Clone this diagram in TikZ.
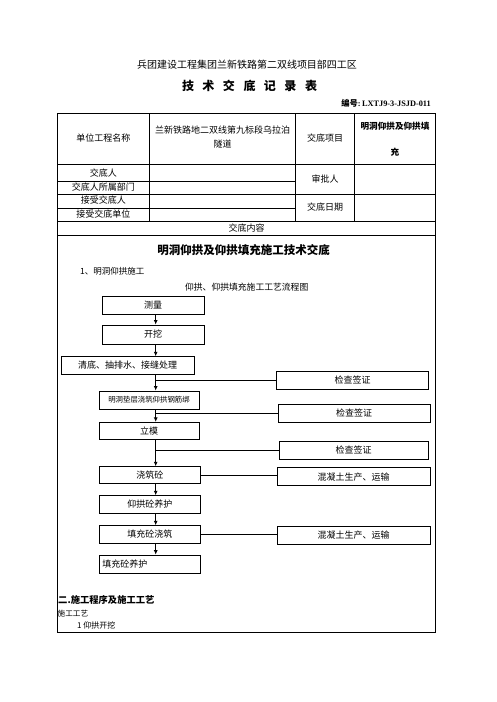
\documentclass[tikz,border=0pt]{standalone}
\usepackage{fontspec}
\setmainfont{Liberation Serif}
\newfontfamily\cjk{Noto Sans CJK SC}
\usetikzlibrary{arrows.meta}
\tikzset{
  tline/.style={line width=0.8pt},
  fbox/.style={draw, line width=0.8pt, inner sep=0pt, font=\cjk\fontsize{9}{10}\selectfont},
  txt/.style={inner sep=0pt, font=\cjk\fontsize{9}{10}\selectfont},
  arr/.style={line width=1pt, -{Latex[length=4.5pt,width=4pt]}},
  link/.style={line width=0.9pt}
}
\begin{document}
\begin{tikzpicture}[x=1pt,y=-1pt]
\fill[white] (0,0) rectangle (496,702);
\useasboundingbox (0,0) rectangle (496,702);
% headings
\node[txt, font=\cjk\fontsize{10}{11}\selectfont] (h1) at (247,65) {兵团建设工程集团兰新铁路第二双线项目部四工区};
\node[txt, font=\cjk\bfseries\fontsize{12}{13}\selectfont] (h2) at (249.5,86) {技\hspace{8.5pt}术\hspace{8.5pt}交\hspace{8.5pt}底\hspace{8.5pt}记\hspace{8.5pt}录\hspace{8.5pt}表};
\node[txt, anchor=east, font=\fontsize{8.3}{9}\selectfont\bfseries] (h3) at (431,103.5) {{\cjk 编号}:\,LXTJ9-3-JSJD-011};
% table
\draw[tline] (57.3,113.3) rectangle (435.7,632.7);
\draw[tline] (57.3,164.3) -- (435.7,164.3);
\draw[tline] (57.3,181.7) -- (295.7,181.7);
\draw[tline] (57.3,194) -- (435.7,194);
\draw[tline] (57.3,208.7) -- (295.7,208.7);
\draw[tline] (57.3,221) -- (435.7,221);
\draw[tline] (57.3,235) -- (435.7,235);
\draw[tline] (149.3,113.3) -- (149.3,221);
\draw[tline] (295.7,113.3) -- (295.7,221);
\draw[tline] (354.3,113.3) -- (354.3,221);
\node[txt] (c11) at (103.3,138.5) {单位工程名称};
\node[txt] (c12a) at (222.5,130) {兰新铁路地二双线第九标段乌拉泊};
\node[txt] (c12b) at (222.5,144) {隧道};
\node[txt] (c13) at (325,138.5) {交底项目};
\node[txt, font=\cjk\bfseries\fontsize{8.6}{10}\selectfont] (c14a) at (395,126) {明洞仰拱及仰拱填};
\node[txt, font=\cjk\bfseries\fontsize{8.6}{10}\selectfont] (c14b) at (395,152.5) {充};
\node[txt] (r2) at (103.3,172.7) {交底人};
\node[txt] (r3) at (103.3,187.5) {交底人所属部门};
\node[txt] (r4) at (103.3,200.5) {接受交底人};
\node[txt] (r5) at (103.3,214) {接受交底单位};
\node[txt] (sp) at (325,179) {审批人};
\node[txt] (rq) at (325,207.5) {交底日期};
\node[txt] (nr) at (246.5,227.8) {交底内容};
% content
\node[txt, font=\cjk\bfseries\fontsize{11.5}{13}\selectfont] (t1) at (243.5,250) {明洞仰拱及仰拱填充施工技术交底};
\node[txt, anchor=west, font=\cjk\fontsize{8.5}{10}\selectfont] (t2) at (80,271.7) {1、明洞仰拱施工};
\node[txt, font=\cjk\fontsize{8.8}{10}\selectfont] (t3) at (246.7,286.7) {仰拱、仰拱填充施工工艺流程图};
% flow boxes
\coordinate (ax) at (155.7,0);
\node[fbox, minimum width=101.7pt, minimum height=17.6pt] (cl) at (153.2,305.5) {测量};
\node[fbox, minimum width=101.7pt, minimum height=19pt] (kw) at (153.2,334.5) {开挖};
\node[fbox, minimum width=133.3pt, minimum height=17.6pt] (qd) at (127.7,365.5) {清底、抽排水、接缝处理};
\node[fbox, minimum width=151.6pt, minimum height=17.6pt] (jc1) at (352.5,380.5) {检查签证};
\node[fbox, minimum width=100pt, minimum height=18pt, font=\cjk\fontsize{7.4}{9}\selectfont] (md) at (149,400) {明洞垫层浇筑仰拱钢筋绑};
\node[fbox, minimum width=151.7pt, minimum height=18pt] (jc2) at (354.2,413.3) {检查签证};
\node[fbox, minimum width=100pt, minimum height=17pt] (lm) at (149,430.8) {立模};
\node[fbox, minimum width=149pt, minimum height=17.6pt] (jc3) at (353.5,450.5) {检查签证};
\node[fbox, minimum width=101.7pt, minimum height=16.6pt] (jz) at (149.8,475) {浇筑砼};
\node[fbox, minimum width=152.7pt, minimum height=18pt] (hn1) at (353.7,476.7) {混凝土生产、运输};
\node[fbox, minimum width=101.7pt, minimum height=17.6pt] (yg) at (149.8,504.5) {仰拱砼养护};
\node[fbox, minimum width=101.7pt, minimum height=17.6pt] (tc) at (149.8,534.5) {填充砼浇筑};
\node[fbox, minimum width=152.7pt, minimum height=18.3pt] (hn2) at (353.7,535.2) {混凝土生产、运输};
\node[fbox, minimum width=101.7pt, minimum height=18.3pt, align=left, text width=95pt] (ty) at (149.8,564.2) {填充砼养护};
% arrows
\draw[arr] (cl.south -| ax) -- (kw.north -| ax);
\draw[arr] (kw.south -| ax) -- (qd.north -| ax);
\draw[arr] (qd.south -| ax) -- (md.north -| ax);
\draw[arr] (md.south -| ax) -- (lm.north -| ax);
\draw[arr] (lm.south -| ax) -- (jz.north -| ax);
\draw[arr] (jz.south -| ax) -- (yg.north -| ax);
\draw[arr] (yg.south -| ax) -- (tc.north -| ax);
\draw[arr] (tc.south -| ax) -- (ty.north -| ax);
\draw[link] (jc1.west) -- (jc1.west -| ax);
\draw[link] (jc2.west) -- (jc2.west -| ax);
\draw[link] (jc3.west) -- (jc3.west -| ax);
\draw[link] (jz.east) -- (jz.east -| hn1.west);
\draw[link] (tc.east) -- (tc.east -| hn2.west);
% section two
\node[txt, anchor=west, font=\cjk\bfseries\fontsize{9.3}{11}\selectfont] (s1) at (58,600) {二.施工程序及施工工艺};
\node[txt, anchor=west, font=\cjk\fontsize{7.6}{9}\selectfont] (s2) at (57.5,613.3) {施工工艺};
\node[txt, anchor=west, font=\cjk\fontsize{8}{9}\selectfont] (s3) at (77,625) {1 仰拱开挖};
\end{tikzpicture}
\end{document}
